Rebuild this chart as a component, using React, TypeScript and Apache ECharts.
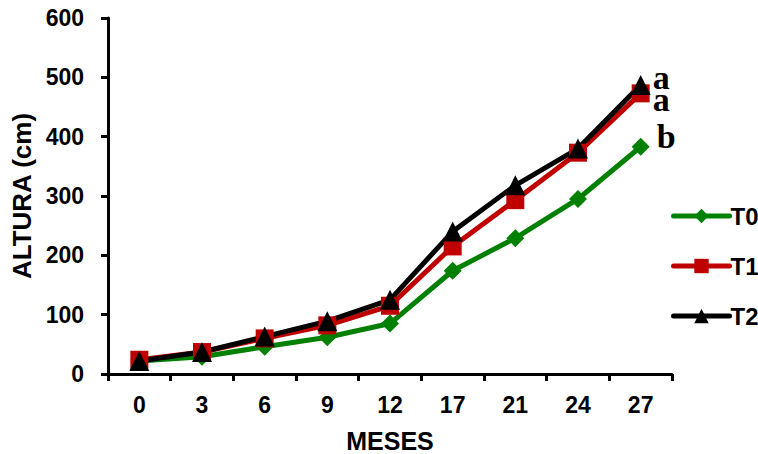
import React, { useEffect, useRef } from "react";
import * as echarts from "echarts";

const months = ["0", "3", "6", "9", "12", "17", "21", "24", "27"];
const t0 = [22, 29, 46, 62, 85, 174, 229, 295, 383];
const t1 = [24, 37, 60, 82, 115, 215, 293, 373, 473];
const t2 = [22, 37, 63, 89, 125, 240, 318, 380, 487];
const letters = ["b", "a", "a"];

const FONT = "Liberation Sans, Arial, sans-serif";

function withLetter(values: number[], letter: string, offset: number[], dist: number) {
  return values.map((v, i) =>
    i === values.length - 1
      ? {
          value: v,
          label: {
            show: true,
            formatter: letter,
            position: "right",
            distance: dist,
            offset,
            fontFamily: "Liberation Serif, Times New Roman, serif",
            fontWeight: "bold",
            fontSize: 34,
            lineHeight: 18,
            color: "#000",
          },
        }
      : v
  );
}

export default function App() {
  const ref = useRef<HTMLDivElement>(null);
  useEffect(() => {
    if (!ref.current) return;
    const chart = echarts.init(ref.current, undefined, { renderer: "svg" });
    chart.setOption({
      animation: false,
      grid: { left: 108, right: 86, top: 18, bottom: 80, outerBoundsMode: "none", containLabel: false },
      legend: {
        orient: "vertical",
        left: 666,
        top: 199,
        itemWidth: 56,
        itemHeight: 18,
        itemGap: 26,
        lineStyle: { width: 5, cap: "round" },
        textStyle: { fontFamily: FONT, fontWeight: "bold", fontSize: 24, color: "#000", padding: [0, 0, 0, -4] },
        data: ["T0", "T1", "T2"],
      },
      xAxis: {
        type: "category",
        data: months,
        boundaryGap: true,
        name: "MESES",
        nameLocation: "middle",
        nameGap: 54,
        nameTextStyle: { fontFamily: FONT, fontWeight: "bold", fontSize: 25, color: "#000" },
        axisLine: { lineStyle: { color: "#000", width: 3 } },
        axisTick: { show: true, length: 7, lineStyle: { color: "#000", width: 3 } },
        axisLabel: { fontFamily: FONT, fontWeight: "bold", fontSize: 23, color: "#000", margin: 19 },
        splitLine: { show: false },
      },
      yAxis: {
        type: "value",
        min: 0,
        max: 600,
        interval: 100,
        name: "ALTURA (cm)",
        nameLocation: "middle",
        nameGap: 73,
        nameTextStyle: { fontFamily: FONT, fontWeight: "bold", fontSize: 26, color: "#000" },
        axisLine: { show: true, lineStyle: { color: "#000", width: 3 } },
        axisTick: { show: true, length: 7, lineStyle: { color: "#000", width: 3 } },
        axisLabel: { fontFamily: FONT, fontWeight: "bold", fontSize: 23, color: "#000", margin: 24 },
        splitLine: { show: false },
      },
      series: [
        {
          name: "T0",
          type: "line",
          data: withLetter(t0, letters[0], [0, -10], 7),
          symbol: "diamond",
          symbolSize: 18,
          color: "#008000",
          lineStyle: { width: 5, color: "#008000" },
          itemStyle: { color: "#008000" },
        },
        {
          name: "T1",
          type: "line",
          data: withLetter(t1, letters[1], [0, 6], 3),
          symbol: "rect",
          symbolSize: 18,
          color: "#c00000",
          lineStyle: { width: 5, color: "#c00000" },
          itemStyle: { color: "#c00000" },
        },
        {
          name: "T2",
          type: "line",
          data: withLetter(t2, letters[2], [0, -8], 2),
          symbol: "triangle",
          symbolSize: 20,
          color: "#000",
          lineStyle: { width: 5, color: "#000" },
          itemStyle: { color: "#000" },
        },
      ],
    });
    return () => chart.dispose();
  }, []);
  return <div ref={ref} style={{ width: 758, height: 454, position: "absolute", left: 0, top: 0 }} />;
}
